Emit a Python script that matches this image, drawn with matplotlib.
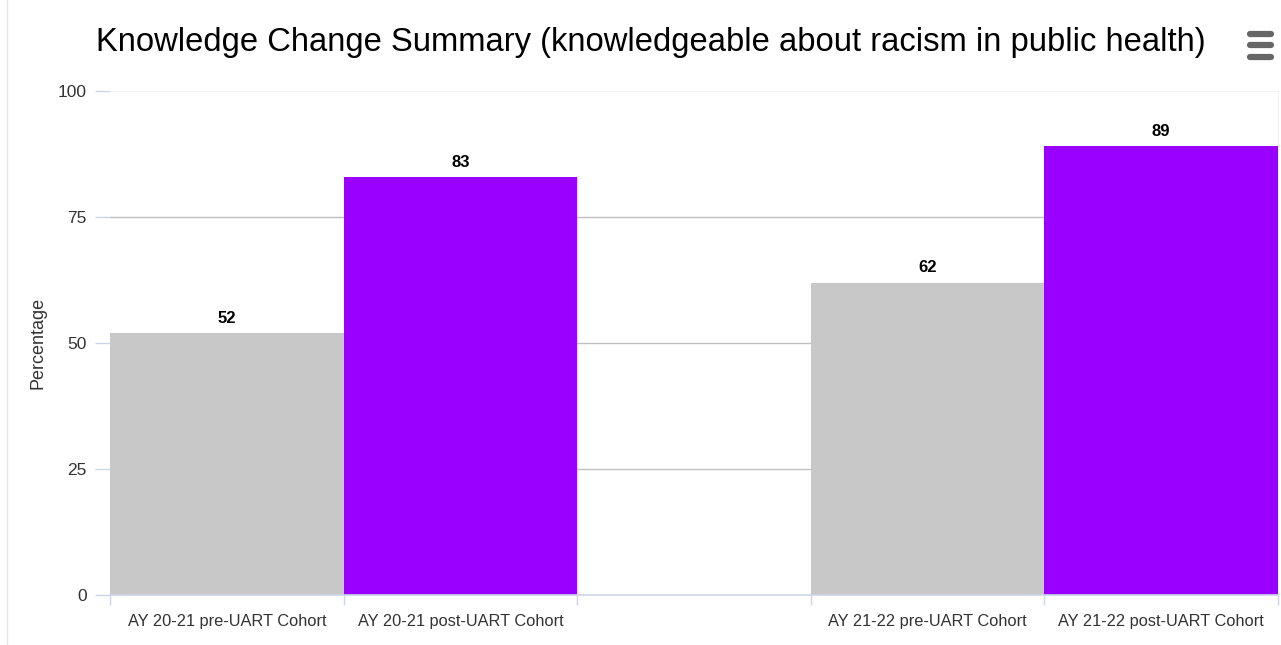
import numpy as np
import matplotlib
matplotlib.use("Agg")
import matplotlib.pyplot as plt

plt.rcParams['font.family'] = ['Liberation Sans', 'DejaVu Sans']

# chart data
categories = ['AY 20-21 pre-UART Cohort', 'AY 20-21 post-UART Cohort', '',
              'AY 21-22 pre-UART Cohort', 'AY 21-22 post-UART Cohort']
values = [52, 83, None, 62, 89]
bar_colors = ['#c8c8c8', '#9900ff', '#ffffff', '#c8c8c8', '#9900ff']
yticks = [0, 25, 50, 75, 100]

fig = plt.figure(figsize=(12.81, 6.45), dpi=100)
ax = fig.add_axes([110 / 1281, 50 / 645, 1168 / 1281, 504 / 645])

x = np.arange(len(categories))
for xi, v, c in zip(x, values, bar_colors):
  if v is None:
    continue
  ax.bar(xi, v, width=1.0, color=c, edgecolor='none', zorder=3)
  ax.text(xi, v + 1.4, str(v), ha='center', va='bottom',
          fontsize=12, fontweight='bold', color='#000000', zorder=4)

ax.set_xlim(-0.5, len(categories) - 0.5)
ax.set_ylim(0, 100)
ax.set_yticks(yticks)
ax.set_yticklabels([str(t) for t in yticks], fontsize=12.5, color='#333333')
ax.tick_params(axis='y', length=10.8, width=1, color='#ccd6eb', pad=6)

# category boundaries as x tick marks
ax.set_xticks(np.arange(-0.5, len(categories) - 0.4, 1.0), minor=False)
ax.set_xticklabels([])
ax.tick_params(axis='x', which='major', length=7.2, width=1, color='#ccd6eb')
ax.set_xticks(x, minor=True)
ax.set_xticklabels(categories, minor=True, fontsize=11.8, color='#333333')
ax.tick_params(axis='x', which='minor', length=0, pad=14)

for t in yticks[1:-1]:
  ax.axhline(t, color='#c0c0c0', lw=1, zorder=1)

ax.spines['left'].set_visible(False)
ax.spines['top'].set_color('#f2f2f2')
ax.spines['right'].set_color('#f2f2f2')
ax.spines['bottom'].set_color('#ccd6eb')
ax.spines['bottom'].set_linewidth(1.2)
ax.spines['bottom'].set_zorder(5)

ax.set_ylabel('Percentage', fontsize=13, color='#333333', labelpad=8)

fig.text(651 / 1281, 1 - 42 / 645,
         'Knowledge Change Summary (knowledgeable about racism in public health)',
         ha='center', va='center', fontsize=23.6, color='#000000')

# faint outer border on the left
fig.add_artist(plt.Line2D([7 / 1281, 7 / 1281], [0, 1], color='#e6e6e6', lw=1))

# menu icon
for yy in [34, 45, 57]:
  fig.add_artist(plt.Line2D([1250 / 1281, 1271 / 1281], [1 - yy / 645, 1 - yy / 645],
                            color='#666666', lw=4.5, solid_capstyle='round'))

fig.savefig('out.png', dpi=100)
